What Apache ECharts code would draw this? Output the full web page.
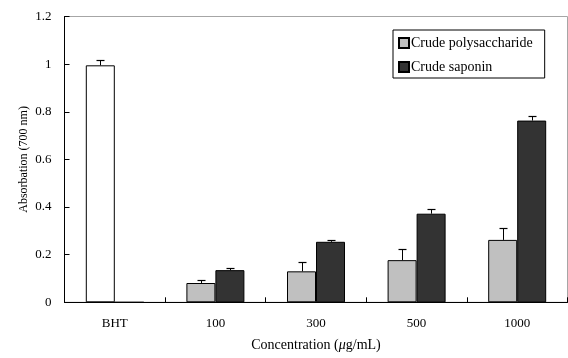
<!DOCTYPE html>
<html>
<head>
<meta charset="utf-8">
<script src="https://cdn.jsdelivr.net/npm/echarts@6/dist/echarts.min.js"></script>
<style>
  html, body { margin: 0; padding: 0; background: #fff; }
  #chart { width: 568px; height: 358px; }
</style>
</head>
<body>
<div id="chart"></div>
<script>
// Reducing power: absorbance at 700 nm by sample concentration
const categories = ['BHT', '100', '300', '500', '1000'];
const bht = [0.995, null, null, null, null];
const bhtErr = [0.023, null, null, null, null];
const polysaccharide = [null, 0.081, 0.130, 0.177, 0.262];
const polysaccharideErr = [null, 0.012, 0.038, 0.047, 0.048];
const saponin = [0, 0.135, 0.254, 0.372, 0.763];
const saponinErr = [0, 0.007, 0.008, 0.018, 0.020];
const yTicks = { min: 0, max: 1.2, interval: 0.2 };

const FONT = 'Liberation Serif';
const BAR_W = 29;

const chart = echarts.init(document.getElementById('chart'), null, { renderer: 'canvas' });

// first bar slot: BHT (white) in its own category, polysaccharide elsewhere
const firstSlot = categories.map((c, i) => bht[i] != null
  ? { value: bht[i], itemStyle: { color: '#ffffff' } }
  : polysaccharide[i]);
const firstSlotErr = categories.map((c, i) => bht[i] != null ? bhtErr[i] : polysaccharideErr[i]);

function errorBars(values, errs, offset) {
  return {
    type: 'custom',
    silent: true,
    z: 5,
    data: categories.map((c, i) => [i, values[i] == null ? null : (values[i].value ?? values[i]), errs[i]]),
    renderItem: function (params, api) {
      const v = api.value(1), e = api.value(2);
      if (v == null || isNaN(v) || !e) return null;
      const base = api.coord([api.value(0), v]);
      const top = api.coord([api.value(0), v + e]);
      const x = Math.round(base[0] + offset) + 0.5;
      const y0 = base[1], y1 = Math.round(top[1]) + 0.5;
      return {
        type: 'group',
        children: [
          { type: 'line', shape: { x1: x, y1: y0, x2: x, y2: y1 }, style: { stroke: '#000', lineWidth: 1 } },
          { type: 'line', shape: { x1: x - 4, y1: y1, x2: x + 4, y2: y1 }, style: { stroke: '#000', lineWidth: 1.2 } }
        ]
      };
    }
  };
}

chart.setOption({
  animation: false,
  backgroundColor: '#ffffff',
  textStyle: { fontFamily: FONT },
  grid: {
    left: 64.5, right: 0.5, top: 16.5, bottom: 55.7,
    show: true, borderColor: '#a6a6a6', borderWidth: 1, backgroundColor: '#ffffff'
  },
  legend: {
    orient: 'vertical',
    left: 393, top: 30,
    data: ['Crude polysaccharide', 'Crude saponin'],
    icon: 'rect',
    itemWidth: 10, itemHeight: 10, itemGap: 10,
    padding: [6, 12, 4, 5],
    borderColor: '#000', borderWidth: 1,
    backgroundColor: '#fff',
    textStyle: { fontFamily: FONT, fontSize: 14, color: '#000', padding: [0, 0, 0, -3] }
  },
  xAxis: {
    type: 'category',
    data: categories,
    boundaryGap: true,
    axisLine: { lineStyle: { color: '#000', width: 1 } },
    axisTick: { show: true, inside: true, length: 5, alignWithLabel: false, lineStyle: { color: '#000' } },
    axisLabel: { color: '#000', fontFamily: FONT, fontSize: 13, margin: 15 },
    name: '{a|Concentration (}{i|μ}{a|g/mL)}',
    nameLocation: 'middle',
    nameGap: 36,
    nameMoveOverlap: false,
    nameTextStyle: {
      rich: {
        a: { fontFamily: FONT, fontSize: 14, color: '#000' },
        i: { fontFamily: FONT, fontSize: 14, color: '#000', fontStyle: 'italic' }
      }
    },
    splitLine: { show: false }
  },
  yAxis: {
    type: 'value',
    min: yTicks.min, max: yTicks.max, interval: yTicks.interval,
    axisLine: { show: true, lineStyle: { color: '#000', width: 1 } },
    axisTick: { show: true, inside: true, length: 5, lineStyle: { color: '#000' } },
    axisLabel: { color: '#000', fontFamily: FONT, fontSize: 13, margin: 13 },
    splitLine: { show: false },
    name: 'Absorbation (700 nm)',
    nameLocation: 'middle',
    nameGap: 35,
    nameMoveOverlap: false,
    nameTextStyle: { fontFamily: FONT, fontSize: 12, color: '#000' }
  },
  series: [
    {
      name: 'Crude polysaccharide',
      type: 'bar',
      barWidth: BAR_W,
      barGap: '0%',
      data: firstSlot,
      itemStyle: { color: '#c0c0c0', borderColor: '#000', borderWidth: 1 }
    },
    {
      name: 'Crude saponin',
      type: 'bar',
      barWidth: BAR_W,
      barGap: '0%',
      data: saponin,
      itemStyle: { color: '#333333', borderColor: '#000', borderWidth: 1 }
    },
    errorBars(firstSlot, firstSlotErr, -BAR_W / 2),
    errorBars(saponin, saponinErr, BAR_W / 2)
  ]
});
</script>
</body>
</html>
